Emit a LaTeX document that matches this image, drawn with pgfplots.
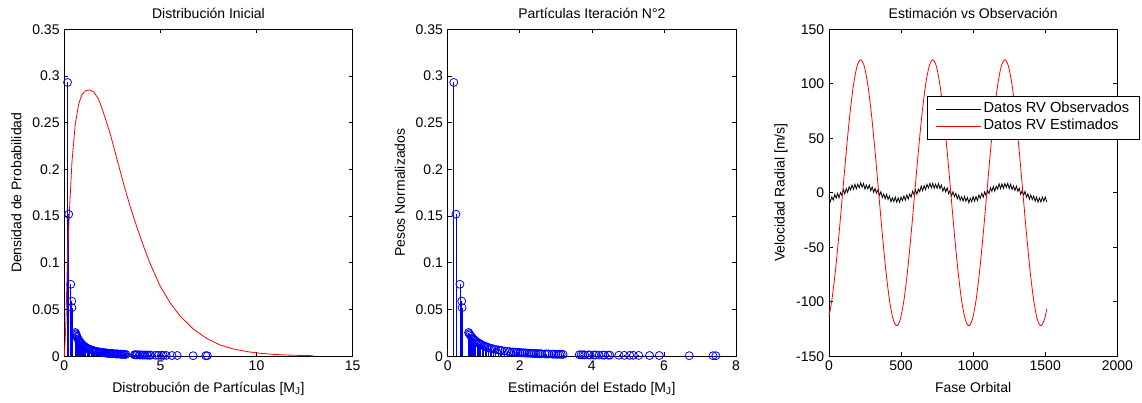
\documentclass[border=0pt]{standalone}
\usepackage{fontspec}
\setmainfont{Liberation Sans}
\usepackage{pgfplots}
\pgfplotsset{compat=1.18}
\usepackage{pgfplotstable}

% particle weights (same particles in both stem plots)
\pgfplotstableread{
x y
0.17 0.293
0.23 0.152
0.34 0.077
0.39 0.059
0.40 0.052
0.58 0.0254
0.60 0.0241
0.62 0.0229
0.65 0.0214
0.68 0.0200
0.72 0.0183
0.75 0.0172
0.78 0.0163
0.82 0.0151
0.85 0.0143
0.88 0.0136
0.92 0.0127
0.96 0.0119
1.00 0.0112
1.04 0.0106
1.08 0.0100
1.12 0.0094
1.18 0.0087
1.22 0.0083
1.28 0.0077
1.33 0.0073
1.40 0.0068
1.45 0.0064
1.50 0.0061
1.58 0.0056
1.65 0.0053
1.72 0.0050
1.80 0.0046
1.85 0.0045
1.90 0.0043
1.95 0.0041
2.00 0.0040
2.05 0.0038
2.10 0.0037
2.15 0.0036
2.20 0.0034
2.25 0.0033
2.30 0.0032
2.35 0.0031
2.40 0.0030
2.45 0.0029
2.50 0.0028
2.55 0.0028
2.60 0.0027
2.70 0.0025
2.75 0.0025
2.80 0.0024
2.90 0.0023
2.95 0.0022
3.00 0.0022
3.05 0.0021
3.10 0.0021
3.15 0.0020
3.20 0.0020
3.65 0.0016
3.70 0.0016
3.75 0.0015
3.80 0.0015
3.90 0.0015
3.95 0.0014
4.05 0.0014
4.10 0.0013
4.20 0.0013
4.30 0.0013
4.35 0.0012
4.45 0.0012
4.50 0.0012
4.75 0.0011
4.90 0.0010
5.05 0.0010
5.15 0.0010
5.30 0.0009
5.60 0.0008
5.87 0.0008
6.70 0.0006
7.36 0.0006
7.44 0.0006
}\stems

% initial density (red curve)
\pgfplotstableread{
x y
0 0
0.05 0.018
0.09 0.039
0.17 0.108
0.28 0.160
0.40 0.208
0.57 0.248
0.75 0.270
0.92 0.280
1.10 0.284
1.30 0.285
1.53 0.283
1.79 0.275
2.05 0.260
2.39 0.238
2.74 0.211
3.08 0.185
3.43 0.160
3.78 0.138
4.12 0.118
4.47 0.099
4.99 0.075
5.51 0.057
6.03 0.043
6.72 0.029
7.42 0.019
8.11 0.012
8.80 0.0078
9.50 0.0050
10.19 0.0032
10.90 0.0020
11.58 0.0013
12.30 0.0009
12.96 0.0006
}\density

% observed RV
\pgfplotstableread{
x y
0 -3.9
10 -8.1
20 -3.7
30 -6.7
40 -1.5
50 -5.0
60 -0.6
70 -4.7
80 0.2
90 -2.3
100 2.9
110 -1.0
120 3.8
130 0.3
140 5.5
150 2.5
160 7.0
170 3.2
180 7.8
190 3.6
200 7.9
210 4.5
220 9.1
230 5.0
240 8.5
250 3.3
260 7.1
270 3.4
280 7.2
290 1.9
300 5.3
310 0.3
320 4.0
330 -0.4
340 2.7
350 -2.5
360 0.9
370 -4.4
380 -1.2
390 -5.5
400 -1.5
410 -6.2
420 -3.1
430 -8.4
440 -4.6
450 -8.2
460 -4.0
470 -8.7
480 -4.7
490 -8.8
500 -4.0
510 -7.3
520 -3.0
530 -6.8
540 -2.0
550 -5.9
560 -1.2
570 -4.0
580 1.4
590 -1.9
600 2.6
610 -1.5
620 3.4
630 0.9
640 6.0
650 1.9
660 6.5
670 2.8
680 7.7
690 4.4
700 8.6
710 4.4
720 8.6
730 4.1
740 7.9
750 4.0
760 8.3
770 3.8
780 6.9
790 1.4
800 4.9
810 0.9
820 4.5
830 -1.0
840 2.2
850 -2.9
860 0.8
870 -3.6
880 -0.5
890 -5.6
900 -2.0
910 -7.1
920 -3.7
930 -7.7
940 -3.4
950 -7.8
960 -4.3
970 -9.2
980 -5.1
990 -8.2
1000 -3.5
1010 -7.9
1020 -3.5
1030 -7.2
1040 -2.1
1050 -5.1
1060 -0.5
1070 -4.1
1080 0.9
1090 -2.8
1100 2.0
1110 -0.8
1120 4.6
1130 1.3
1140 5.7
1150 1.4
1160 6.1
1170 3.4
1180 8.2
1190 3.8
1200 8.1
1210 4.0
1220 8.5
1230 4.9
1240 8.6
1250 3.9
1260 7.8
1270 2.9
1280 6.3
1290 2.1
1300 6.1
1310 1.3
1320 4.2
1330 -1.5
1340 1.8
1350 -2.3
1360 1.3
1370 -4.2
1380 -1.0
1390 -6.0
1400 -2.1
1410 -6.3
1420 -3.0
1430 -7.8
1440 -3.9
1450 -8.7
1460 -4.9
1470 -8.5
1480 -3.9
1490 -7.8
1500 -3.8
1510 -8.4
}\obs

% estimated RV
\pgfplotstableread{
x y
0 -113.4
20 -98.7
45 -71.7
70 -37.7
95 0
120 37.7
145 71.7
170 98.7
195 116.0
220 122.0
245 116.0
270 98.7
295 71.7
320 37.7
345 0
370 -37.7
395 -71.7
420 -98.7
445 -116.0
470 -122.0
495 -116.0
520 -98.7
545 -71.7
570 -37.7
595 0
620 37.7
645 71.7
670 98.7
695 116.0
720 122.0
745 116.0
770 98.7
795 71.7
820 37.7
845 0
870 -37.7
895 -71.7
920 -98.7
945 -116.0
970 -122.0
995 -116.0
1020 -98.7
1045 -71.7
1070 -37.7
1095 0
1120 37.7
1145 71.7
1170 98.7
1195 116.0
1220 122.0
1245 116.0
1270 98.7
1295 71.7
1320 37.7
1345 0
1370 -37.7
1395 -71.7
1420 -98.7
1445 -116.0
1470 -122.0
1495 -116.0
1510 -106.9
}\est

\newcommand{\mfont}{\fontsize{10.5}{12.6}\selectfont}
\newcommand{\lfont}{\fontsize{11}{13}\selectfont}

\pgfplotsset{
  every axis title shift=0pt,
  mpanel/.style={
    scale only axis,
    width=216.3pt, height=245.3pt,
    font=\mfont,
    axis line style={black, line width=0.6pt},
    tick style={black, line width=0.5pt},
    major tick length=3pt,
    tick align=inside,
    title style={at={(axis description cs:0.5,1)}, anchor=base, yshift=8.25pt},
    xlabel style={at={(axis description cs:0.5,0)}, anchor=base, yshift=-27.3pt},
    ylabel style={at={(axis description cs:-0.166,0.5)}, anchor=center},
    clip=false,
  }
}

\begin{document}
\begin{tikzpicture}
\useasboundingbox (-48.2pt,-35pt) rectangle (808.3pt,267.2pt);

\begin{axis}[mpanel, at={(0pt,0pt)},
  xmin=0, xmax=15, ymin=0, ymax=0.35,
  xtick={0,5,10,15}, xticklabels={0,5,10,15},
  ytick={0,0.05,0.1,0.15,0.2,0.25,0.3,0.35},
  yticklabels={0,0.05,0.1,0.15,0.2,0.25,0.3,0.35},
  title={Distribución Inicial},
  xlabel={Distrobución de Partículas [M\textsubscript{J}]},
  ylabel={Densidad de Probabilidad}]
\addplot[ycomb, color=blue, line width=0.6pt, mark=o, mark size=3pt, mark options={solid}] table[x=x,y=y] {\stems};
\addplot[color=red, line width=0.6pt, no marks] table[x=x,y=y] {\density};
\end{axis}

\begin{axis}[mpanel, at={(287.55pt,0pt)},
  xmin=0, xmax=8, ymin=0, ymax=0.35,
  xtick={0,2,4,6,8}, xticklabels={0,2,4,6,8},
  ytick={0,0.05,0.1,0.15,0.2,0.25,0.3,0.35},
  yticklabels={0,0.05,0.1,0.15,0.2,0.25,0.3,0.35},
  title={Partículas Iteración N°2},
  xlabel={Estimación del Estado [M\textsubscript{J}]},
  ylabel={Pesos Normalizados}]
\addplot[ycomb, color=blue, line width=0.6pt, mark=o, mark size=3pt, mark options={solid}] table[x=x,y=y] {\stems};
\end{axis}

\begin{axis}[mpanel, at={(573.5pt,0pt)},
  xmin=0, xmax=2000, ymin=-150, ymax=150,
  xtick={0,500,1000,1500,2000}, xticklabels={0,500,1000,1500,2000},
  ytick={-150,-100,-50,0,50,100,150},
  yticklabels={-150,-100,-50,0,50,100,150},
  title={Estimación vs Observación},
  xlabel={Fase Orbital},
  ylabel={Velocidad Radial [m/s]},
  legend cell align=left,
  legend image code/.code={\draw[#1] (0pt,0pt) -- (34pt,0pt);},
  legend style={at={(0.34,0.796)}, anchor=north west, draw=black, line width=0.6pt, fill=white,
    font=\lfont, inner xsep=6pt, inner ysep=3pt, row sep=0pt,
    nodes={font=\lfont, inner sep=1.5pt, text depth=0.25em, text height=0.75em},
    /tikz/every even column/.append style={column sep=4pt}}]
\addplot[color=black, line width=0.6pt, no marks] table[x=x,y=y] {\obs};
\addlegendentry{\lfont Datos RV Observados}
\addplot[color=red, line width=0.6pt, no marks, smooth] table[x=x,y=y] {\est};
\addlegendentry{\lfont Datos RV Estimados}
\end{axis}
\end{tikzpicture}
\end{document}
